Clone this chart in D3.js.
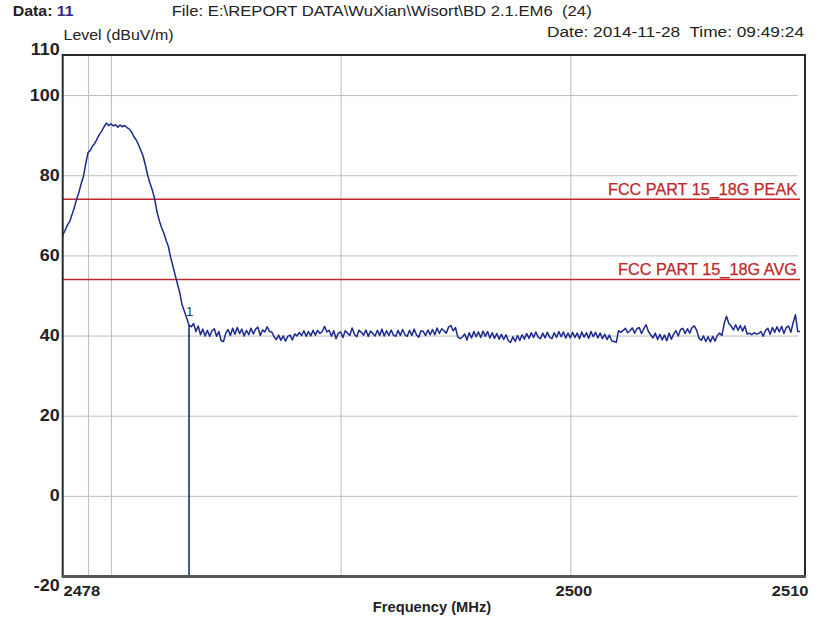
<!DOCTYPE html>
<html><head><meta charset="utf-8">
<script src="https://cdn.jsdelivr.net/npm/d3@7"></script>
<style>
html,body{margin:0;padding:0;background:#fff;}
svg{display:block;font-family:"Liberation Sans",Arial,sans-serif;}
text{white-space:pre;}
</style></head>
<body>
<svg id="chart" width="820" height="628"></svg>
<script>
// ---- data ----
const freqStart = 2477.9;   // MHz, first sweep point
const freqStep = 0.1;       // MHz per sweep point
const levels = [
  65.0,
  66.2, 67.5, 68.4, 70.1, 71.8, 73.9, 75.6, 77.8, 79.6, 82.8,
  85.6, 86.2, 87.3, 88.0, 89.1, 90.2, 91.0, 92.1, 93.0, 92.4,
  92.8, 92.3, 92.6, 92.0, 92.5, 92.1, 92.4, 91.9, 91.5, 90.8,
  89.6, 88.8, 87.6, 86.2, 84.8, 82.5, 80.0, 78.0, 76.3, 74.2,
  71.0, 68.8, 67.0, 65.6, 63.8, 62.2, 59.5, 57.3, 55.0, 52.8,
  50.6, 47.6, 46.0, 44.3, 42.6, 42.2,
  43.0, 41.0, 42.4, 40.2,
  41.6, 39.9, 41.3, 39.8, 41.2, 41.7, 39.8, 41.0, 38.7, 38.5,
  40.6, 41.5, 40.0, 41.8, 40.3, 42.0, 40.5, 41.6, 39.9, 41.3,
  40.2, 41.8, 40.4, 41.6, 42.1, 40.0, 41.4, 40.9, 42.2, 41.0,
  40.9, 39.7, 39.0, 40.1, 38.8, 39.9, 38.6, 39.8, 40.1, 38.9,
  40.4, 39.9, 40.8, 40.0, 41.2, 39.8, 41.0, 39.9, 41.3, 40.1,
  41.3, 40.5, 41.0, 42.3, 40.9, 41.3, 39.8, 41.2, 39.2, 40.6,
  40.9, 39.5, 41.2, 40.6, 40.0, 41.9, 40.3, 39.7, 41.3, 40.8,
  40.1, 41.4, 39.8, 41.1, 40.5, 39.9, 41.3, 40.0, 41.6, 39.9,
  41.2, 40.0, 41.4, 40.1, 39.8, 41.3, 40.0, 41.5, 40.2, 39.8,
  41.3, 40.0, 41.6, 40.2, 39.6, 41.2, 41.0, 40.0, 41.4, 40.2,
  41.5, 40.2, 41.9, 40.5, 41.7, 41.2, 40.6, 42.1, 42.5, 41.2,
  42.0, 39.7, 39.2, 39.6, 40.4, 38.9, 40.7, 39.4, 41.0, 39.7,
  40.9, 39.5, 41.1, 39.8, 41.0, 39.4, 40.7, 39.3, 40.5, 39.1,
  40.3, 39.0, 40.2, 38.7, 38.3, 39.7, 38.5, 40.0, 38.8, 40.2,
  39.1, 40.5, 39.3, 40.7, 39.5, 40.9, 39.6, 39.2, 40.6, 39.4,
  40.8, 39.6, 39.2, 40.7, 39.5, 41.0, 39.7, 40.9, 39.4, 40.6,
  39.4, 40.8, 39.5, 40.6, 39.2, 40.9, 39.6, 40.7, 39.3, 41.0,
  39.7, 40.8, 39.4, 40.6, 39.2, 40.3, 39.0, 40.1, 38.7, 38.5,
  38.3, 41.2, 40.8, 41.3, 41.8, 40.7, 41.2, 41.9, 40.6, 41.7,
  42.0, 40.5, 41.7, 42.7, 41.0, 40.2, 39.4, 40.6, 39.0, 40.3,
  38.9, 40.1, 38.7, 40.6, 39.1, 40.4, 41.2, 39.9, 41.5, 41.8,
  40.5, 41.7, 40.6, 42.0, 42.4, 41.3, 39.4, 38.8, 39.9, 38.5,
  39.7, 38.4, 39.8, 38.6, 40.0, 40.6, 40.0, 43.0, 44.8, 43.0,
  42.4, 41.4, 42.7, 41.3, 42.5, 41.1, 42.4, 40.4, 40.6, 40.2,
  40.7, 40.4, 40.5, 41.0, 39.8, 41.3, 41.8, 40.3, 42.0, 40.8,
  42.2, 40.9, 42.3, 40.5, 42.0, 42.4, 40.8, 43.2, 45.2, 41.0,
  41.0
];
const limitNames = ["FCC PART 15_18G PEAK", "FCC PART 15_18G AVG"];
const limitLevels = [74, 54];
const markerFreqs = [2483.4];
const markerLevels = [42.6];
const markerLabels = ["1"];
const yTickValues = [110, 100, 80, 60, 40, 20, 0, -20];
const yGridValues = [100, 80, 60, 40, 20, 0];
const xTickValues = [2478, 2500, 2510];
const xGridValues = [2479, 2480, 2490, 2500];
const dataLabel = "Data: ";
const dataNumber = "11";
const fileText = "File: E:\\REPORT DATA\\WuXian\\Wisort\\BD 2.1.EM6  (24)";
const dateText = "Date: 2014-11-28  Time: 09:49:24";
const yTitle = "Level (dBuV/m)";
const xTitle = "Frequency (MHz)";

// ---- layout ----
const svg = d3.select("#chart");
const L = 62.7, R = 800, T = 55, B = 576, frameR = 805;
const x = d3.scaleLinear().domain([freqStart, 2510]).range([L, R]);
const y = d3.scaleLinear().domain([-20, 110]).range([B, T]);
const navy = "#1b2a8c", red = "#c0272d", ink = "#222";
const pts = levels.map((v, i) => ({f: +(freqStart + i * freqStep).toFixed(1), v}));

function fit(sel, w) {
  sel.attr("textLength", w).attr("lengthAdjust", "spacingAndGlyphs");
}
function stretch(sel, k) {
  sel.each(function () {
    const w = this.getComputedTextLength();
    this.setAttribute("textLength", w * k);
    this.setAttribute("lengthAdjust", "spacingAndGlyphs");
  });
}

svg.append("rect").attr("width", 820).attr("height", 628).attr("fill", "#fff");

// grid: horizontal
const gy = svg.append("g").attr("transform", `translate(${L},0)`)
  .call(d3.axisLeft(y).tickValues(yGridValues).tickSize(-(R - L - 2)).tickFormat(""));
gy.select(".domain").remove();
gy.selectAll("line").attr("stroke", "#bdbdbd").attr("stroke-width", 1);

// grid: vertical
const gx = svg.append("g").attr("transform", `translate(0,${B})`)
  .call(d3.axisBottom(x).tickValues(xGridValues).tickSize(-(B - T)).tickFormat(""));
gx.select(".domain").remove();
gx.selectAll("line").attr("stroke", "#bdbdbd").attr("stroke-width", 1);

// limit lines
svg.append("g").selectAll("line").data(limitLevels).join("line")
  .attr("x1", L).attr("x2", R)
  .attr("y1", d => y(d)).attr("y2", d => y(d))
  .attr("stroke", red).attr("stroke-width", 1.6);
const limitWidths = [189, 179];
svg.append("g").selectAll("text").data(limitNames).join("text")
  .attr("x", R - 3).attr("y", (d, i) => y(limitLevels[i]) - 4.5)
  .attr("text-anchor", "end").attr("font-size", 16).attr("fill", red)
  .attr("stroke", red).attr("stroke-width", 0.25)
  .text(d => d)
  .each(function (d, i) { fit(d3.select(this), limitWidths[i]); });

// trace
svg.append("path").datum(pts)
  .attr("fill", "none").attr("stroke", navy).attr("stroke-width", 1.5)
  .attr("stroke-linejoin", "round")
  .attr("d", d3.line().x(d => x(d.f)).y(d => y(d.v)));

// marker
svg.append("g").selectAll("line").data(markerFreqs).join("line")
  .attr("x1", d => x(d)).attr("x2", d => x(d))
  .attr("y1", (d, i) => y(markerLevels[i])).attr("y2", B)
  .attr("stroke", navy).attr("stroke-width", 1.6);
svg.append("g").selectAll("text").data(markerLabels).join("text")
  .attr("x", (d, i) => x(markerFreqs[i]) - 3).attr("y", (d, i) => y(markerLevels[i]) - 9)
  .attr("font-size", 13).attr("fill", "#2b3170").text(d => d);

// frame
svg.append("rect").attr("x", L).attr("y", T).attr("width", frameR - L).attr("height", B - T)
  .attr("fill", "none").attr("stroke", "#2a2a2a").attr("stroke-width", 2);
svg.append("line").attr("x1", L - 1).attr("x2", frameR + 1).attr("y1", B + 0.5).attr("y2", B + 0.5)
  .attr("stroke", "#555").attr("stroke-width", 3);

// y tick labels
const ay = svg.append("g").attr("transform", `translate(${L},0)`)
  .call(d3.axisLeft(y).tickValues(yTickValues).tickSize(0).tickPadding(3).tickFormat(d => String(d)));
ay.select(".domain").remove();
ay.selectAll("text")
  .attr("font-size", 16).attr("font-weight", "bold").attr("fill", ink)
  .attr("font-family", "Liberation Sans, Arial, sans-serif")
  .attr("dy", d => d === 110 ? "-0.05em" : d === -20 ? "0.9em" : "0.32em")
  .call(stretch, 1.12);

// x tick labels
const ax = svg.append("g").attr("transform", `translate(0,${B})`)
  .call(d3.axisBottom(x).tickValues(xTickValues).tickSize(0).tickPadding(0).tickFormat(d => String(d)));
ax.select(".domain").remove();
ax.selectAll("text")
  .attr("font-size", 15).attr("font-weight", "bold").attr("fill", ink)
  .attr("font-family", "Liberation Sans, Arial, sans-serif")
  .attr("y", 20).attr("dy", 0)
  .attr("text-anchor", d => d === 2478 ? "start" : d === 2510 ? "end" : "middle")
  .attr("dx", d => d === 2478 ? -2 : d === 2510 ? 8 : 3)
  .call(stretch, 1.1);

// titles
const t1 = svg.append("text").attr("x", 12.7).attr("y", 16)
  .attr("font-size", 14).attr("font-weight", "bold").attr("fill", ink);
t1.append("tspan").text(dataLabel);
t1.append("tspan").attr("fill", "#2b2f86").text(dataNumber);
fit(t1, 61);

svg.append("text").attr("x", 171.7).attr("y", 16)
  .attr("font-size", 14).attr("fill", ink).text(fileText).call(fit, 420);

svg.append("text").attr("x", 63.5).attr("y", 40)
  .attr("font-size", 14).attr("fill", ink).text(yTitle).call(fit, 110);

svg.append("text").attr("x", 547).attr("y", 37)
  .attr("font-size", 14).attr("fill", ink).text(dateText).call(fit, 257);

svg.append("text").attr("x", 432).attr("y", 612).attr("text-anchor", "middle")
  .attr("font-size", 14).attr("font-weight", "bold").attr("fill", ink).text(xTitle).call(stretch, 1.05);
</script>
</body></html>
